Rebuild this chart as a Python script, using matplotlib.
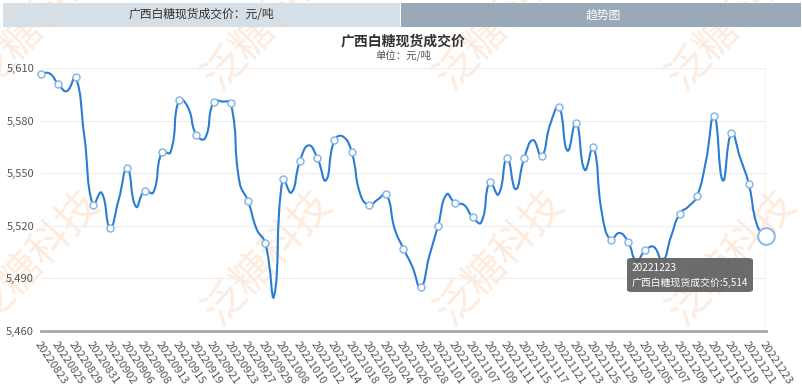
import matplotlib
matplotlib.use('Agg')
import matplotlib.pyplot as plt
import numpy as np
from matplotlib.path import Path
from matplotlib.patches import PathPatch, Rectangle, FancyBboxPatch

plt.rcParams['font.family'] = ['Noto Sans CJK SC', 'DejaVu Sans']

dates = ['20220823', '20220824', '20220825', '20220826', '20220829', '20220830', '20220831',
         '20220901', '20220902', '20220905', '20220906', '20220907', '20220908', '20220909',
         '20220913', '20220914', '20220915', '20220916', '20220919', '20220920', '20220921',
         '20220922', '20220923', '20220926', '20220927', '20220928', '20220929', '20220930',
         '20221008', '20221009', '20221010', '20221011', '20221012', '20221013', '20221014',
         '20221017', '20221018', '20221019', '20221020', '20221021', '20221024', '20221025',
         '20221026', '20221027', '20221028', '20221031', '20221101', '20221102', '20221103',
         '20221104', '20221107', '20221108', '20221109', '20221110', '20221111', '20221114',
         '20221115', '20221116', '20221117', '20221118', '20221121', '20221122', '20221123',
         '20221124', '20221125', '20221128', '20221129', '20221130', '20221201', '20221202',
         '20221205', '20221206', '20221207', '20221208', '20221209', '20221212', '20221213',
         '20221214', '20221215', '20221216', '20221219', '20221220', '20221221', '20221222',
         '20221223']

prices = [5607, 5607, 5601, 5597, 5605, 5572, 5532, 5539, 5519, 5535,
          5553, 5531, 5540, 5539, 5562, 5562, 5592, 5588, 5572, 5570,
          5591, 5591, 5590, 5545, 5534, 5518, 5510, 5480, 5547, 5539,
          5557, 5566, 5559, 5546, 5569, 5571, 5562, 5538, 5532, 5535,
          5538, 5518, 5507, 5497, 5485, 5503, 5520, 5538, 5533, 5532,
          5525, 5522, 5545, 5538, 5559, 5541, 5559, 5569, 5560, 5578,
          5588, 5563, 5579, 5552, 5565, 5527, 5512, 5516, 5511, 5500,
          5506, 5508, 5500, 5514, 5527, 5531, 5537, 5556, 5583, 5546,
          5573, 5559, 5544, 5520, 5514]

yticks = [5460, 5490, 5520, 5550, 5580, 5610]

W, H = 803, 387
fig = plt.figure(figsize=(W / 100, H / 100), dpi=100)

def fx(px):
    return px / W

def fy(py):
    return 1 - py / H

# watermark
for row_y in (92, 327):
    for col_x in (-12, 220, 452, 684):
        fig.text(fx(col_x), fy(row_y), '泛糖科技', fontsize=30, rotation=47,
                 rotation_mode='anchor', ha='left', va='baseline',
                 color='#fcdcc2', alpha=0.55, zorder=-5)

# tab bar
fig.add_artist(Rectangle((fx(3), fy(27)), fx(397), 24 / H, transform=fig.transFigure,
                         facecolor='#d6dee6', edgecolor='none', zorder=1))
fig.add_artist(Rectangle((fx(401), fy(27)), fx(400), 24 / H, transform=fig.transFigure,
                         facecolor='#9aa9b7', edgecolor='none', zorder=1))
fig.text(fx(201), fy(15), '广西白糖现货成交价：元/吨', ha='center', va='center',
         fontsize=8.5, color='#333333', zorder=2)
fig.text(fx(603), fy(15), '趋势图', ha='center', va='center',
         fontsize=8.5, color='white', zorder=2)

fig.text(fx(403), fy(41), '广西白糖现货成交价', ha='center', va='center',
         fontsize=10, fontweight='bold', color='#333333')
fig.text(fx(403), fy(55), '单位：元/吨', ha='center', va='center',
         fontsize=7.5, color='#555555')

ax = fig.add_axes([fx(41), 56 / H, fx(766 - 41), (331 - 68.3) / H])
ax.patch.set_alpha(0)
x = np.arange(len(prices))
ax.set_xlim(0, len(prices) - 1)
ax.set_ylim(yticks[0], yticks[-1])

for s in ('top', 'right', 'left'):
    ax.spines[s].set_visible(False)
ax.spines['bottom'].set_color('#a8a8a8')
ax.spines['bottom'].set_linewidth(2)

ax.set_yticks(yticks)
ax.set_yticklabels([f'{v:,}' for v in yticks])
ax.tick_params(axis='y', length=0, pad=5, labelsize=8, labelcolor='#555555')
for v in yticks[1:]:
    ax.axhline(v, color='#f0f0f0', lw=1, zorder=0)

ax.set_xticks(x[::2])
ax.set_xticklabels(dates[::2], rotation=-56, ha='left', va='top',
                   rotation_mode='anchor')
ax.tick_params(axis='x', length=0, pad=6, labelsize=8, labelcolor='#555555')

# smooth line the way echarts does it
pts = ax.transData.transform(np.column_stack([x, prices]))
n = len(pts)
cin, cout = [], []
for i in range(n):
    p = pts[i]
    prv = pts[i - 1] if i > 0 else p
    nxt = pts[i + 1] if i < n - 1 else p
    v = (nxt - prv) * 0.5
    d0 = np.hypot(*(p - prv))
    d1 = np.hypot(*(p - nxt))
    tot = d0 + d1
    if tot:
        d0, d1 = d0 / tot, d1 / tot
    cin.append(p - v * d0)
    cout.append(p + v * d1)
verts = [pts[0]]
codes = [Path.MOVETO]
for i in range(n - 1):
    verts += [cout[i], cin[i + 1], pts[i + 1]]
    codes += [Path.CURVE4] * 3
verts = ax.transData.inverted().transform(np.array(verts))
ax.add_patch(PathPatch(Path(verts, codes), facecolor='none', edgecolor='#2a7dd3',
                       lw=1.5, zorder=3))

# hover pointer line
ax.axvline(x[-1], color='#cccccc', lw=1, zorder=2)

ax.plot(x[:-1:2], prices[:-1:2], 'o', ms=5, mfc='white', mec='#8ab6e8', mew=1.1,
        zorder=4, clip_on=False)
ax.plot(x[-1], prices[-1], 'o', ms=12, mfc='white', mec='#8ab6e8', mew=1.4,
        zorder=4, clip_on=False)

# tooltip
fig.add_artist(FancyBboxPatch((fx(627), fy(292)), fx(126), 34 / H,
                              boxstyle='round,pad=0,rounding_size=0.006',
                              transform=fig.transFigure, facecolor='#5f5f5f',
                              edgecolor='none', alpha=0.92, zorder=10))
fig.text(fx(632), fy(268), dates[-1], ha='left', va='center', fontsize=7.3,
         color='white', zorder=11)
fig.text(fx(632), fy(283), f'广西白糖现货成交价:{prices[-1]:,}', ha='left', va='center',
         fontsize=7.1, color='white', zorder=11)

fig.savefig('out.png', dpi=100)
